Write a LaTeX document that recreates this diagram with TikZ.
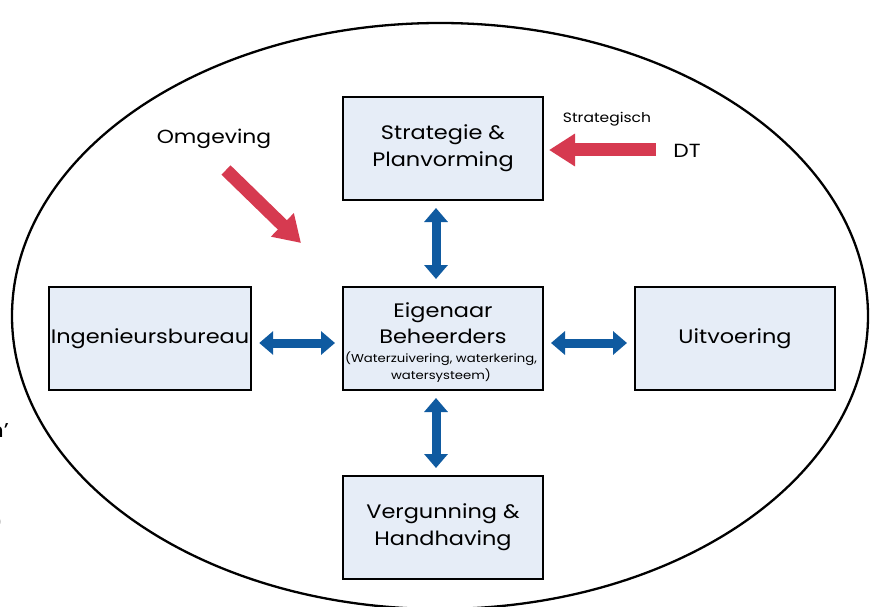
\documentclass[tikz,border=0pt]{standalone}
\usepackage{fontspec}
\setmainfont{Poppins}[FakeStretch=1.15]
\usetikzlibrary{arrows.meta}
\definecolor{boxfill}{HTML}{E6EDF7}
\definecolor{arrblue}{HTML}{0F5AA0}
\definecolor{arrred}{HTML}{D63A50}
\tikzset{
  blk/.style={draw=black, line width=2pt, fill=boxfill, minimum width=200pt, minimum height=103pt, align=center, font=\fontsize{19.5}{27}\selectfont, inner sep=2pt},
  dbl/.style={draw=arrblue, line width=9pt, {Triangle[width=23pt,length=14pt]}-{Triangle[width=23pt,length=14pt]}, shorten <=7pt, shorten >=7pt},
  redarr/.style={draw=arrred, line width=13pt, -{Triangle[width=31pt,length=26pt]}},
  lbl/.style={font=\fontsize{19}{22}\selectfont, inner sep=0pt}
}
\begin{document}
\begin{tikzpicture}[x=1pt,y=-1pt]
\useasboundingbox (0,0) rectangle (873,607);
\begin{scope}
\clip (0,0) rectangle (873,607);
\draw[line width=2.3pt] (440,316) ellipse [x radius=428, y radius=293];
\node[lbl, anchor=east, font=\fontsize{20}{24}\selectfont] (fragA) at (9,431) {n’};
\node[lbl, anchor=east, font=\fontsize{20}{24}\selectfont] (fragB) at (3,522) {)};
\end{scope}

\node[blk] (strat) at (443,148.5) {Strategie \&\\Planvorming};
\node[blk] (eig) at (443,338.5) {};
\node[align=center, font=\fontsize{19.5}{26}\selectfont, inner sep=0pt] (eigt) at (443,323) {Eigenaar\\Beheerders};
\node[align=center, font=\fontsize{11.5}{17}\selectfont, inner sep=0pt] (eigs) at (441,367) {(Waterzuivering, waterkering,\\watersysteem)};
\node[blk] (ing) at (150,338.5) {Ingenieursbureau};
\node[blk] (uit) at (735,338.5) {Uitvoering};
\node[blk] (verg) at (443,527.5) {Vergunning \&\\Handhaving};

\draw[dbl] (strat.south -| 436,0) -- (eig.north -| 436,0);
\draw[dbl] (eig.south -| 436,0) -- (verg.north -| 436,0);
\draw[dbl] (ing.east |- 0,343) -- (eig.west |- 0,343);
\draw[dbl] (eig.east |- 0,343) -- (uit.west |- 0,343);

\node[lbl] (omg) at (214,139) {Omgeving};
\node[lbl, font=\fontsize{13.5}{16}\selectfont] (strg) at (607,119) {Strategisch};
\node[lbl] (dt) at (687,151) {DT};

\coordinate (omgtail) at (226,170);
\coordinate (omgtip) at (301,243);
\draw[redarr] (omgtail) -- (omgtip);
\draw[redarr, shorten >=5pt] (656,150) -- (strat.east |- 0,150);
\end{tikzpicture}
\end{document}
